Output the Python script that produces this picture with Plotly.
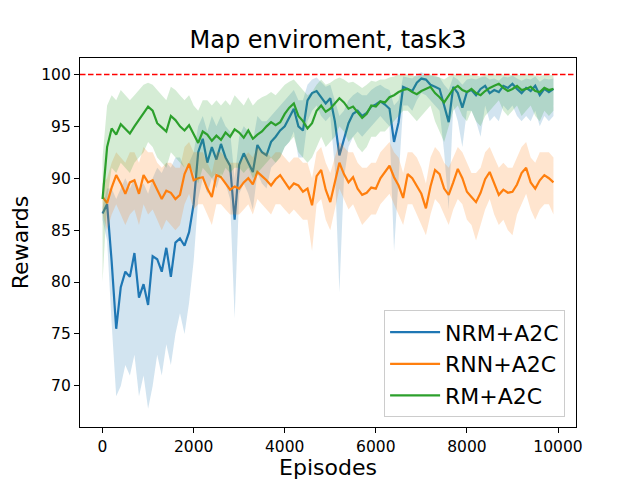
import plotly.graph_objects as go

# episodes sampled every 100
episodes = list(range(0, 10000, 100))

nrm_mean = [86.6, 87.5, 82.0, 75.5, 79.5, 81.0, 80.5, 82.8, 78.5, 79.8,
            77.8, 82.5, 82.2, 81.0, 83.3, 80.5, 83.8, 84.2, 83.5, 84.8,
            87.5, 92.5, 93.8, 91.5, 93.0, 91.8, 93.3, 92.0, 91.2, 86.0,
            91.3, 92.4, 91.5, 90.6, 93.2, 92.5, 92.2, 93.5, 94.0, 94.6,
            95.0, 95.8, 96.7, 95.0, 94.6, 97.5, 98.2, 98.4, 97.8, 97.2,
            97.7, 95.5, 92.2, 93.8, 95.3, 96.2, 96.5, 96.0, 96.3, 96.9,
            97.1, 97.4, 97.1, 96.7, 93.5, 95.4, 98.8, 98.6, 98.4, 99.2,
            99.6, 99.5, 99.0, 98.8, 98.6, 97.0, 95.4, 98.8, 98.2, 96.8,
            98.3, 98.5, 98.0, 98.6, 98.9, 98.2, 98.5, 98.3, 98.9, 98.7,
            99.1, 98.6, 98.2, 98.7, 98.4, 98.9, 98.0, 98.6, 98.3, 98.6]
nrm_low = [86.0, 84.0, 76.0, 69.0, 70.0, 72.0, 71.0, 73.0, 69.0, 71.0,
           67.8, 70.0, 73.0, 71.0, 74.0, 72.0, 75.0, 77.0, 75.0, 78.0,
           82.0, 88.0, 90.0, 88.5, 90.0, 89.0, 90.5, 89.5, 88.0, 76.5,
           88.5, 89.5, 88.5, 87.0, 90.5, 89.5, 89.0, 91.0, 91.5, 92.0,
           93.0, 93.5, 94.5, 92.0, 92.0, 95.5, 96.5, 97.0, 96.0, 95.5,
           96.0, 91.0, 79.0, 90.0, 93.0, 94.0, 94.5, 94.0, 94.5, 95.0,
           95.5, 96.0, 95.5, 95.0, 83.0, 90.0, 97.0, 97.0, 96.5, 97.5,
           98.2, 98.0, 97.5, 97.0, 96.5, 92.5, 87.0, 97.0, 95.5, 93.0,
           96.5, 96.5, 95.5, 94.0, 97.0, 95.5, 96.0, 95.5, 97.0, 96.5,
           97.0, 96.0, 95.5, 96.0, 95.5, 96.5, 95.0, 96.0, 95.5, 96.0]
nrm_high = [87.2, 89.0, 89.0, 88.0, 89.0, 90.0, 89.0, 90.0, 89.0, 89.5,
            88.5, 90.0, 91.0, 90.5, 91.5, 91.0, 92.0, 92.0, 91.0, 91.5,
            92.5, 95.0, 96.0, 94.5, 96.0, 95.0, 96.0, 95.0, 94.5, 90.0,
            94.0, 95.0, 94.5, 93.5, 96.0, 95.5, 95.5, 96.0, 96.5, 97.0,
            97.5, 98.0, 98.5, 97.5, 97.5, 99.0, 99.5, 99.7, 99.2, 98.8,
            99.0, 97.5, 96.0, 96.5, 97.5, 98.0, 98.3, 98.0, 98.0, 98.5,
            98.8, 99.0, 98.7, 98.5, 97.0, 97.5, 99.8, 99.7, 99.6, 100.0,
            100.2, 100.0, 99.9, 99.8, 99.7, 99.0, 98.5, 99.8, 99.5, 99.0,
            99.5, 99.6, 99.5, 99.7, 99.8, 99.5, 99.6, 99.4, 99.8, 99.7,
            99.9, 99.6, 99.4, 99.6, 99.5, 99.8, 99.3, 99.6, 99.5, 99.6]

rnn_mean = [88.2, 87.6, 89.1, 90.3, 89.5, 88.5, 89.6, 89.8, 88.5, 90.3,
            89.6, 89.8, 88.9, 88.0, 88.8, 88.6, 88.0, 88.4, 90.4, 91.4,
            89.8, 90.0, 90.1, 89.0, 88.2, 90.3, 90.1, 89.5, 88.9, 89.2,
            89.0, 89.6, 90.0, 89.4, 90.6, 90.2, 89.8, 89.3, 89.9, 90.3,
            89.6, 89.0, 89.5, 89.3, 88.7, 89.0, 87.4, 90.2, 90.8, 88.9,
            87.7, 89.5, 91.5, 90.4, 89.6, 90.1, 89.0, 88.4, 88.6, 89.1,
            89.0, 90.0, 90.6, 91.2, 90.1, 89.3, 88.1, 90.4, 90.0, 89.3,
            88.5, 87.1, 89.2, 90.8, 90.4, 89.0, 88.4, 89.6, 90.9, 90.0,
            88.7, 88.2, 87.7, 88.6, 89.9, 90.6, 89.4, 88.4, 88.9, 88.6,
            88.7, 89.4, 90.5, 91.0, 89.6, 89.0, 89.8, 90.3, 90.0, 89.6]
rnn_low = [86.5, 85.0, 86.5, 87.5, 86.5, 85.5, 86.5, 87.0, 85.5, 87.5,
           86.5, 87.0, 86.0, 85.0, 86.0, 85.5, 85.0, 85.5, 87.5, 88.5,
           87.0, 87.5, 87.5, 86.5, 85.5, 87.5, 87.5, 87.0, 86.5, 86.5,
           86.5, 87.0, 87.5, 86.5, 88.0, 87.5, 87.0, 86.5, 87.5, 87.5,
           87.0, 86.5, 87.0, 86.5, 86.0, 86.0, 83.0, 87.5, 88.0, 86.0,
           85.0, 87.0, 89.0, 88.0, 87.0, 87.5, 86.5, 85.5, 86.0, 86.5,
           86.5, 87.5, 88.0, 88.5, 87.5, 86.5, 85.5, 87.5, 87.5, 86.5,
           85.5, 84.5, 86.5, 88.0, 87.5, 86.5, 85.5, 87.0, 88.0, 87.5,
           86.0, 85.5, 84.0, 85.5, 87.0, 88.0, 86.5, 85.5, 86.0, 85.0,
           84.5, 86.5, 87.5, 88.5, 87.0, 86.0, 87.0, 87.5, 87.5, 86.5]
rnn_high = [89.5, 90.0, 91.5, 92.5, 92.0, 91.5, 92.5, 92.5, 91.5, 93.0,
            92.5, 92.5, 91.5, 91.0, 91.5, 91.5, 91.0, 91.0, 93.0, 93.5,
            92.5, 92.5, 92.5, 91.5, 90.5, 92.5, 92.5, 92.0, 91.5, 91.5,
            91.5, 92.0, 92.5, 92.0, 93.0, 92.5, 92.5, 92.0, 92.5, 92.5,
            92.0, 91.5, 92.0, 92.0, 91.5, 91.5, 90.0, 92.5, 93.0, 91.5,
            90.5, 92.0, 93.5, 93.0, 92.5, 92.5, 91.5, 91.0, 91.0, 91.5,
            91.5, 92.5, 93.0, 93.5, 92.5, 92.0, 90.5, 92.5, 92.5, 92.0,
            91.0, 89.5, 92.0, 93.0, 92.5, 91.5, 91.0, 92.0, 93.0, 92.5,
            91.5, 90.5, 90.5, 91.0, 92.5, 93.0, 92.0, 91.0, 91.5, 91.0,
            91.0, 92.0, 93.0, 93.5, 92.0, 91.5, 92.5, 92.5, 92.5, 92.0]

rm_mean = [88.0, 93.0, 94.8, 94.2, 95.2, 94.7, 94.3, 95.0, 95.6, 96.2,
           96.9, 96.5, 95.3, 94.9, 94.5, 96.0, 95.6, 95.0, 94.6, 95.1,
           94.2, 93.4, 94.5, 94.2, 93.6, 94.1, 93.7, 94.4, 94.0, 94.7,
           94.4, 93.9, 94.6, 93.8, 94.2, 94.5, 95.0, 95.4, 95.1, 95.4,
           96.2, 96.8, 97.2, 96.0, 95.5, 94.8, 95.3, 96.5, 97.0, 96.4,
           96.7, 97.2, 97.7, 97.3, 96.7, 96.9, 96.3, 95.8, 96.2, 97.0,
           96.9, 97.4, 97.3, 97.8, 98.0, 98.3, 98.5, 98.6, 98.3, 98.1,
           98.4, 98.6, 98.8, 98.2, 97.8, 97.3, 98.0, 98.6, 98.9, 98.5,
           98.3, 98.6, 98.2, 98.0, 98.4, 98.7, 98.9, 99.1, 98.7, 98.4,
           98.6, 98.9, 98.5, 98.6, 98.8, 98.4, 98.3, 98.7, 98.5, 98.6]
rm_low = [80.0, 88.0, 91.0, 90.5, 91.5, 91.0, 90.5, 91.5, 92.0, 92.5,
          93.5, 93.0, 92.0, 91.5, 91.0, 92.5, 92.0, 91.5, 91.0, 91.5,
          90.5, 89.5, 91.0, 90.5, 90.0, 90.5, 90.0, 91.0, 90.5, 91.0,
          91.0, 90.5, 91.0, 90.0, 90.5, 91.0, 91.5, 92.0, 91.5, 92.0,
          93.0, 93.5, 94.0, 92.5, 92.0, 91.5, 92.0, 93.0, 94.0, 93.0,
          93.5, 94.0, 95.0, 94.5, 93.5, 94.0, 93.0, 92.5, 93.0, 94.0,
          94.0, 94.5, 94.5, 95.0, 95.5, 96.0, 96.5, 96.5, 96.0, 95.5,
          96.0, 96.5, 97.0, 95.5, 94.5, 93.5, 95.0, 96.5, 97.0, 96.0,
          95.5, 96.5, 95.5, 95.0, 96.0, 96.5, 97.0, 97.5, 96.5, 96.0,
          96.5, 97.0, 96.0, 96.5, 97.0, 96.0, 95.5, 96.5, 96.0, 96.5]
rm_high = [92.0, 97.0, 98.0, 97.5, 98.5, 98.0, 97.5, 98.0, 98.5, 99.0,
           99.2, 99.0, 98.5, 98.0, 97.5, 98.8, 98.5, 98.0, 97.5, 98.0,
           97.0, 96.5, 97.5, 97.5, 97.0, 97.5, 97.0, 97.5, 97.0, 98.0,
           97.5, 97.0, 97.8, 97.0, 97.5, 97.8, 98.0, 98.3, 98.0, 98.5,
           99.0, 99.3, 99.5, 99.0, 98.5, 98.0, 98.3, 99.0, 99.5, 99.0,
           99.2, 99.5, 99.7, 99.5, 99.2, 99.3, 99.0, 98.7, 99.0, 99.4,
           99.3, 99.5, 99.5, 99.7, 99.8, 100.0, 100.0, 100.0, 99.9, 99.8,
           99.9, 100.0, 100.0, 99.9, 99.7, 99.5, 99.8, 100.0, 100.0, 100.0,
           99.9, 100.0, 99.9, 99.8, 100.0, 100.0, 100.0, 100.0, 100.0, 99.9,
           100.0, 100.0, 99.9, 100.0, 100.0, 99.9, 99.8, 100.0, 99.9, 100.0]

target_reward = 100
x_ticks = [0, 2000, 4000, 6000, 8000, 10000]
y_ticks = [70, 75, 80, 85, 90, 95, 100]

runs = [
    ("NRM+A2C", nrm_mean, nrm_low, nrm_high, "#1f77b4", "rgba(31,119,180,0.2)"),
    ("RNN+A2C", rnn_mean, rnn_low, rnn_high, "#ff7f0e", "rgba(255,127,14,0.2)"),
    ("RM+A2C", rm_mean, rm_low, rm_high, "#2ca02c", "rgba(44,160,44,0.2)"),
]

fig = go.Figure()
for name, mean, low, high, col, fill in runs:
    fig.add_trace(go.Scatter(x=episodes, y=high, mode="lines", line=dict(width=0),
                             showlegend=False, hoverinfo="skip"))
    fig.add_trace(go.Scatter(x=episodes, y=low, mode="lines", line=dict(width=0),
                             fill="tonexty", fillcolor=fill,
                             showlegend=False, hoverinfo="skip"))
    fig.add_trace(go.Scatter(x=episodes, y=mean, mode="lines", name=name,
                             line=dict(color=col, width=2.2)))

fig.add_shape(type="line", xref="paper", x0=0, x1=1, yref="y",
              y0=target_reward, y1=target_reward,
              line=dict(color="red", width=1.5, dash="5.5px,2.5px"))

axis_style = dict(showgrid=False, zeroline=False, showline=True, mirror=True,
                  linecolor="black", linewidth=1.1, ticks="outside", ticklen=5,
                  tickcolor="black", tickfont=dict(size=15.5, color="black"),
                  automargin=False)

fig.update_xaxes(range=[-495, 10395], tickvals=x_ticks,
                 ticktext=[str(t) for t in x_ticks],
                 title=dict(text="Episodes", font=dict(size=22, color="black"), standoff=6),
                 **axis_style)
fig.update_yaxes(range=[66.04, 101.58], tickvals=y_ticks,
                 ticktext=[str(t) for t in y_ticks],
                 title=dict(text="Rewards", font=dict(size=22, color="black"), standoff=14),
                 **axis_style)

# page body adds an 8px offset, so the figure is 8px smaller on each axis
fig.update_layout(
    width=632, height=472,
    margin=dict(l=72, r=64, t=50, b=53),
    paper_bgcolor="white", plot_bgcolor="white",
    font=dict(family="DejaVu Sans", color="black"),
    title=dict(text="Map enviroment, task3", font=dict(size=24, color="black"),
               x=0.5, xref="paper", xanchor="center",
               y=1 - 32 / 472, yref="container", yanchor="middle"),
    legend=dict(x=0.978, y=0.026, xanchor="right", yanchor="bottom",
                traceorder="normal", itemwidth=50,
                font=dict(size=22), bgcolor="white",
                bordercolor="#cccccc", borderwidth=1),
)

fig.write_html("out.html")
